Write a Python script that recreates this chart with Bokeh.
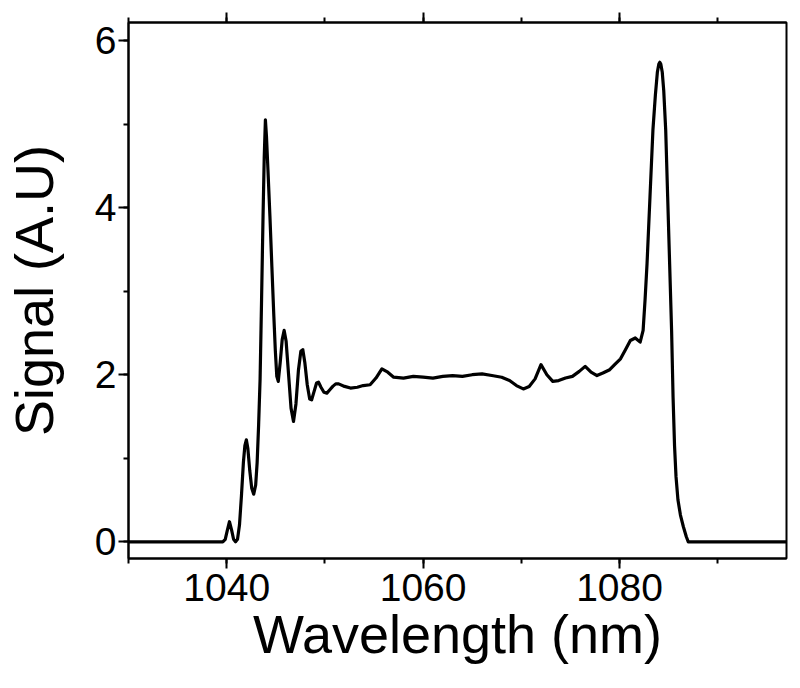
from bokeh.plotting import figure
from bokeh.models import LinearAxis, SingleIntervalTicker, Range1d, ColumnDataSource
from bokeh.embed import file_html
from bokeh.resources import INLINE

# Data
wavelength = [1030, 1035, 1039.6, 1039.85, 1040.05, 1040.28, 1040.5, 1040.7, 1040.9, 1041.1,
              1041.3, 1041.5, 1041.7, 1041.85, 1042.0, 1042.15, 1042.35, 1042.55, 1042.75, 1042.95,
              1043.1, 1043.25, 1043.4, 1043.55, 1043.7, 1043.82, 1043.94, 1044.05, 1044.2, 1044.4,
              1044.6, 1044.8, 1044.95, 1045.1, 1045.25, 1045.45, 1045.65, 1045.85, 1046.05, 1046.3,
              1046.55, 1046.8, 1047.05, 1047.3, 1047.55, 1047.75, 1047.95, 1048.2, 1048.45, 1048.65,
              1048.9, 1049.15, 1049.35, 1049.6, 1049.9, 1050.2, 1050.5, 1050.8, 1051.1, 1051.4,
              1052.0, 1052.6, 1053.3, 1053.9, 1054.6, 1055.2, 1055.8, 1056.4, 1057.0, 1058,
              1059, 1060, 1061, 1062, 1063, 1064, 1065, 1066, 1067, 1068,
              1068.8, 1069.5, 1070.2, 1070.8, 1071.4, 1072.0, 1072.6, 1073.2, 1073.8, 1074.5,
              1075.2, 1075.9, 1076.5, 1077.1, 1077.7, 1078.3, 1079.0, 1079.5, 1080.1, 1080.6,
              1081.1, 1081.6, 1082.1, 1082.4, 1082.6, 1082.8, 1083.1, 1083.4, 1083.65, 1083.85,
              1084.0, 1084.1, 1084.2, 1084.35, 1084.5, 1084.7, 1084.9, 1085.1, 1085.3, 1085.45,
              1085.6, 1085.75, 1085.95, 1086.2, 1086.5, 1086.8, 1087.0, 1090, 1097]
signal = [0, 0, 0, 0.03, 0.13, 0.24, 0.14, 0.03, 0.0, 0.03,
          0.2, 0.55, 0.95, 1.15, 1.22, 1.12, 0.85, 0.64, 0.57, 0.68,
          0.95, 1.4, 1.95, 2.9, 3.9, 4.6, 5.05, 4.85, 4.45, 3.9,
          3.29, 2.7, 2.29, 1.98, 1.92, 2.15, 2.42, 2.53, 2.4, 2.0,
          1.6, 1.44, 1.65, 2.05, 2.28, 2.3, 2.15, 1.88, 1.71, 1.7,
          1.8, 1.9, 1.91, 1.85, 1.79, 1.78, 1.82, 1.86, 1.89, 1.89,
          1.86, 1.84, 1.85, 1.87, 1.88, 1.96, 2.07, 2.03, 1.97, 1.96,
          1.98, 1.97, 1.96, 1.98, 1.99, 1.98, 2.0, 2.01, 1.99, 1.97,
          1.93, 1.87, 1.83, 1.86, 1.95, 2.12, 2.0, 1.92, 1.93, 1.96,
          1.98, 2.04, 2.1, 2.03, 1.99, 2.02, 2.06, 2.12, 2.19, 2.3,
          2.41, 2.44, 2.39, 2.53, 2.9, 3.33, 4.13, 4.93, 5.35, 5.62,
          5.72, 5.74, 5.72, 5.62, 5.4, 4.93, 4.13, 3.33, 2.53, 1.73,
          1.15, 0.78, 0.5, 0.32, 0.18, 0.06, 0.0, 0, 0]

x_label = "Wavelength (nm)"
y_label = "Signal (A.U)"

FONT = "Liberation Sans"

source = ColumnDataSource(data=dict(x=wavelength, y=signal))

p = figure(frame_width=658, frame_height=536,
           x_range=Range1d(1030, 1097), y_range=Range1d(-0.2, 6.216),
           output_backend="svg", toolbar_location=None,
           min_border_left=128, min_border_right=14,
           min_border_top=22, min_border_bottom=130)

p.background_fill_color = "white"
p.border_fill_color = "white"
p.grid.visible = False
p.outline_line_color = "black"
p.outline_line_width = 2
p.outline_line_alpha = 1.0

p.line("x", "y", source=source, line_color="black", line_width=3.2, line_join="round")

xt = SingleIntervalTicker(interval=20, num_minor_ticks=2)
yt = SingleIntervalTicker(interval=2, num_minor_ticks=2)

p.xaxis.ticker = xt
p.yaxis.ticker = yt


def style_axis(ax):
    ax.axis_line_color = "black"
    ax.axis_line_width = 2
    ax.major_tick_line_color = "black"
    ax.major_tick_line_width = 2
    ax.minor_tick_line_color = "black"
    ax.minor_tick_line_width = 2
    ax.major_tick_out = 10
    ax.major_tick_in = 0
    ax.minor_tick_out = 5
    ax.minor_tick_in = 0
    ax.major_label_text_font = FONT
    ax.major_label_text_font_size = "39px"
    ax.major_label_text_color = "black"
    ax.axis_label_text_font = FONT
    ax.axis_label_text_font_size = "54px"
    ax.axis_label_text_font_style = "normal"
    ax.axis_label_text_color = "black"


for ax in p.xaxis + p.yaxis:
    style_axis(ax)

p.xaxis.axis_label = x_label
p.yaxis.axis_label = y_label
p.xaxis.major_label_standoff = 5
p.yaxis.major_label_standoff = 2
p.xaxis.axis_label_standoff = 0
p.yaxis.axis_label_standoff = 28

top = LinearAxis(ticker=xt)
style_axis(top)
top.major_label_text_font_size = "1px"
top.major_label_text_color = None
top.major_label_standoff = 0
p.add_layout(top, "above")

open("out.html", "w").write(file_html(p, INLINE))
